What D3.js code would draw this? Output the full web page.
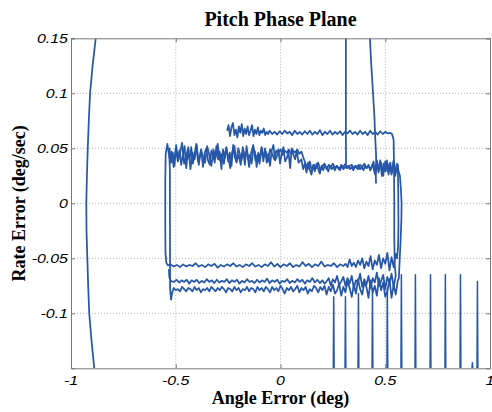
<!DOCTYPE html>
<html><head><meta charset="utf-8">
<script src="https://cdn.jsdelivr.net/npm/d3@7"></script>
<style>body{margin:0;background:#fff}svg{display:block}</style>
</head><body>
<script>
// ---------- data ----------
const title = "Pitch Phase Plane";
const xLabel = "Angle Error (deg)";
const yLabel = "Rate Error (deg/sec)";
const xDomain = [-1, 1];
const yDomain = [-0.15, 0.15];
const xTicks = [-1, -0.5, 0, 0.5, 1];
const xTickLabels = ["-1", "-0.5", "0", "0.5", "1"];
const yTicks = [-0.1, -0.05, 0, 0.05, 0.1, 0.15];
const yTickLabels = ["-0.1", "-0.05", "0", "0.05", "0.1", "0.15"];

// left boundary curve
const leftCurve = [[-0.882,0.15],[-0.897,0.125],[-0.909,0.1],[-0.915,0.075],[-0.920,0.05],[-0.924,0.025],[-0.927,0],
  [-0.926,-0.025],[-0.922,-0.05],[-0.918,-0.075],[-0.913,-0.1],[-0.902,-0.125],[-0.889,-0.15]];

// vertical entry line from top
const entryLine = [[0.312,0.15],[0.312,0.100],[0.312,0.060],[0.313,0.036]];
// descending line from top
const descLine = [[0.427,0.15],[0.432,0.13],[0.440,0.105],[0.448,0.08],[0.452,0.06],[0.456,0.045],[0.457,0.035],[0.455,0.025],[0.456,0.018]];

// pass A: inner left edge, top band, outer right edge, lower band C
const passA = [[-0.522,-0.088],[-0.527,-0.078],[-0.527,-0.06],[-0.528,0.0],[-0.528,0.03],[-0.53,0.040],
  [-0.530,.050],[-0.522,.037],[-0.514,.046],[-0.506,.034],[-0.498,.053],[-0.490,.041],[-0.482,.048],[-0.474,.035],
  [-0.466,.044],[-0.458,.052],[-0.450,.032],[-0.442,.047],[-0.434,.040],[-0.426,.051],[-0.418,.036],[-0.410,.045],
  [-0.402,.054],[-0.394,.038],[-0.386,.042],[-0.378,.049],[-0.370,.033],[-0.362,.046],[-0.354,.050],[-0.346,.039],
  [-0.338,.035],[-0.330,.048],[-0.322,.044],[-0.314,.037],[-0.306,.052],[-0.298,.040],[-0.290,.047],[-0.282,.031],
  [-0.274,.049],[-0.266,.041],[-0.258,.051],[-0.250,.038],[-0.242,.046],[-0.234,.034],[-0.226,.053],[-0.218,.042],
  [-0.210,.037],[-0.202,.050],[-0.194,.045],[-0.186,.039],[-0.178,.048],[-0.170,.035],[-0.162,.052],[-0.154,.040],
  [-0.146,.044],[-0.138,.036],[-0.130,.049],[-0.122,.047],[-0.114,.033],[-0.106,.046],[-0.098,.041],[-0.090,.051],
  [-0.082,.038],[-0.074,.050],[-0.066,.037],[-0.058,.045],[-0.050,.034],[-0.042,.048],[-0.034,.053],[-0.026,.039],
  [-0.018,.042],[-0.010,.049],[-0.002,.036],[0.006,.046],[0.014,.051],[0.022,.038],[0.030,.041],[0.038,.047],
  [0.046,.032],[0.054,.050],[0.062,.044],[0.070,.040],[0.078,.048],[0.086,.037],
  [0.100,.040],[0.108,.031],[0.116,.036],[0.124,.028],[0.132,.037],[0.140,.030],[0.148,.026],[0.156,.035],
  [0.164,.029],[0.172,.036],[0.180,.031],[0.188,.027],[0.196,.034],[0.204,.030],[0.212,.035],[0.220,.032],
  [0.228,.029],[0.236,.034],[0.244,.031],[0.252,.033],[0.260,.030],[0.268,.034],[0.276,.032],[0.284,.030],
  [0.292,.034],[0.300,.031],[0.308,.033],[0.316,.032],[0.324,.034],[0.332,.031],[0.340,.033],[0.348,.030],
  [0.356,.034],[0.364,.032],[0.372,.035],[0.380,.031],[0.388,.033],[0.396,.030],[0.404,.034],[0.412,.032],
  [0.420,.035],[0.428,.030],[0.436,.033],[0.444,.038],[0.452,.026],[0.460,.037],[0.468,.028],[0.476,.039],
  [0.484,.025],[0.492,.036],[0.500,.029],[0.508,.039],[0.516,.026],[0.524,.037],[0.532,.028],[0.540,.038],
  [0.548,.025],[0.556,.036],[0.564,.029],
  [0.570,0.025],[0.575,0.012],[0.578,0.0],[0.577,-0.015],[0.573,-0.035],[0.568,-0.055],[0.565,-0.068],
  [0.56,-.070],[0.55,-.083],[0.54,-.074],[0.53,-.086],[0.52,-.069],[0.51,-.080],[0.50,-.085],[0.49,-.072],
  [0.48,-.079],[0.47,-.068],[0.46,-.084],[0.45,-.075],[0.44,-.081],[0.43,-.070],[0.42,-.086],[0.41,-.076],
  [0.40,-.072],[0.39,-.083],[0.38,-.078],[0.37,-.069],[0.36,-.082],[0.35,-.074],[0.34,-.085],[0.33,-.077],
  [0.32,-.071],[0.31,-.081],[0.30,-.076],[0.29,-.084],[0.28,-.073],[0.27,-.079],[0.26,-.082],[0.25,-.074],
  [0.24,-.080],[0.23,-.076],[0.22,-.083],[0.21,-.075],
  [0.20,-.079],[0.19,-.076],[0.18,-.081],[0.17,-.077],[0.16,-.075],[0.15,-.080],[0.14,-.078],[0.13,-.082],
  [0.12,-.076],[0.11,-.079],[0.10,-.077],[0.09,-.081],[0.08,-.075],[0.07,-.078],[0.06,-.080],[0.05,-.076],
  [0.04,-.079],[0.03,-.077],[0.02,-.082],[0.01,-.078],[0.00,-.075],[-0.01,-.080],[-0.02,-.077],[-0.03,-.079],
  [-0.04,-.076],[-0.05,-.081],[-0.06,-.078],[-0.07,-.076],[-0.08,-.080],[-0.09,-.077],[-0.10,-.079],[-0.11,-.076],
  [-0.12,-.081],[-0.13,-.078],[-0.14,-.077],[-0.15,-.080],[-0.16,-.076],[-0.17,-.079],[-0.18,-.078],[-0.19,-.081],
  [-0.20,-.077],[-0.21,-.079],[-0.22,-.076],[-0.23,-.080],[-0.24,-.078],[-0.25,-.077],[-0.26,-.081],[-0.27,-.078],
  [-0.28,-.076],[-0.29,-.079],[-0.30,-.077],[-0.31,-.080],[-0.32,-.078],[-0.33,-.076],[-0.34,-.080],[-0.35,-.077],
  [-0.36,-.079],[-0.37,-.078],[-0.38,-.081],[-0.39,-.077],[-0.40,-.079],[-0.41,-.076],[-0.42,-.080],[-0.43,-.078],
  [-0.44,-.077],[-0.45,-.080],[-0.46,-.078],[-0.47,-.076],[-0.48,-.080],[-0.49,-.078],[-0.50,-.079],[-0.51,-.077],
  [-0.515,-.080],[-0.52,-0.084],[-0.522,-0.088]];

// pass B: outer left edge, second top band, right edge, lower band A
const passB = [[-0.545,-0.054],[-0.549,-0.045],[-0.55,-0.02],[-0.55,0.02],[-0.548,0.045],
  [-0.54,.054],[-0.53,.041],[-0.52,.047],[-0.51,.033],[-0.50,.050],[-0.49,.038],[-0.48,.045],[-0.47,.055],
  [-0.46,.036],[-0.45,.043],[-0.44,.051],[-0.43,.031],[-0.42,.046],[-0.41,.040],[-0.40,.053],[-0.39,.035],
  [-0.38,.048],[-0.37,.042],[-0.36,.037],[-0.35,.052],[-0.34,.044],[-0.33,.034],[-0.32,.049],[-0.31,.041],
  [-0.30,.054],[-0.29,.039],[-0.28,.045],[-0.27,.036],[-0.26,.050],[-0.25,.043],[-0.24,.032],[-0.23,.047],
  [-0.22,.052],[-0.21,.038],[-0.20,.044],[-0.19,.035],[-0.18,.051],[-0.17,.041],[-0.16,.048],[-0.15,.033],
  [-0.14,.046],[-0.13,.053],[-0.12,.039],[-0.11,.044],[-0.10,.036],[-0.09,.050],[-0.08,.042],[-0.07,.047],
  [-0.06,.038],[-0.05,.049],[-0.04,.045],[-0.03,.040],[-0.02,.048],[-0.01,.046],[0.00,.049],[0.01,.044],
  [0.02,.048],[0.03,.046],[0.04,.049],[0.05,.045],[0.06,.048],[0.07,.046],[0.08,.049],[0.09,.045],[0.10,.047],
  [0.11,.041],[0.12,.036],
  [0.13,.031],[0.14,.038],[0.15,.029],[0.16,.035],[0.17,.032],[0.18,.037],[0.19,.030],[0.20,.034],[0.21,.036],
  [0.22,.031],[0.23,.035],[0.24,.033],[0.25,.036],[0.26,.032],[0.27,.034],[0.28,.031],[0.29,.035],[0.30,.033],
  [0.31,.036],[0.32,.032],[0.33,.034],[0.34,.035],[0.35,.032],[0.36,.034],[0.37,.031],[0.38,.035],[0.39,.033],
  [0.40,.036],[0.41,.032],[0.42,.034],[0.43,.031],[0.44,.036],[0.45,.027],[0.46,.039],[0.47,.030],[0.48,.037],
  [0.49,.025],[0.50,.038],[0.51,.029],[0.52,.036],[0.53,.026],[0.54,.039],[0.55,.028],[0.56,.035],
  [0.562,0.01],[0.563,-0.02],[0.561,-0.040],[0.556,-0.050],
  [0.55,-.046],[0.54,-.058],[0.53,-.049],[0.52,-.061],[0.51,-.045],[0.50,-.055],[0.49,-.050],[0.48,-.059],
  [0.47,-.047],[0.46,-.056],[0.45,-.052],[0.44,-.060],[0.43,-.048],[0.42,-.057],[0.41,-.053],[0.40,-.059],
  [0.39,-.050],[0.38,-.056],[0.37,-.052],[0.36,-.058],[0.35,-.054],[0.34,-.057],[0.33,-.051],[0.32,-.058],
  [0.31,-.055],[0.30,-.057],
  [0.285,-.0555],[0.27,-.058],[0.255,-.0545],[0.24,-.057],[0.225,-.056],[0.21,-.0575],[0.195,-.053],[0.18,-.057],
  [0.165,-.0555],[0.15,-.058],[0.135,-.055],[0.12,-.057],[0.105,-.0535],[0.09,-.0575],[0.075,-.056],[0.06,-.058],
  [0.045,-.0545],[0.03,-.057],[0.015,-.0555],[0.0,-.058],[-0.015,-.055],[-0.03,-.0575],[-0.045,-.0535],[-0.06,-.057],
  [-0.075,-.0555],[-0.09,-.058],[-0.105,-.056],[-0.12,-.0575],[-0.135,-.0545],[-0.15,-.057],[-0.165,-.0555],
  [-0.18,-.058],[-0.195,-.056],[-0.21,-.0575],[-0.225,-.0545],[-0.24,-.057],[-0.255,-.0555],[-0.27,-.0575],
  [-0.285,-.056],[-0.30,-.0585],[-0.315,-.055],[-0.33,-.057],[-0.345,-.0555],[-0.36,-.058],[-0.375,-.056],
  [-0.39,-.0575],[-0.405,-.0545],[-0.42,-.057],[-0.435,-.056],[-0.45,-.0575],[-0.465,-.0555],[-0.48,-.058],
  [-0.495,-.056],[-0.51,-.0575],[-0.525,-.0555],[-0.538,-0.0565],[-0.545,-0.054]];

// pass C: upper band, inner right edge, lower band B
const passC = [[-0.255,.066],[-0.248,.071],[-0.241,.061],[-0.234,.069],[-0.227,.073],[-0.220,.062],[-0.213,.067],
  [-0.206,.060],[-0.199,.070],[-0.192,.064],[-0.185,.072],[-0.178,.061],[-0.171,.068],[-0.164,.063],[-0.157,.070],
  [-0.150,.062],[-0.143,.066],[-0.136,.071],[-0.129,.061],[-0.122,.067],[-0.115,.063],[-0.108,.069],[-0.101,.062],
  [-0.094,.066],[-0.087,.064],[-0.080,.068],[-0.073,.062],[-0.066,.065],[-0.059,.063],[-0.052,.066],
  [-0.040,.063],[-0.028,.065],[-0.016,.0625],[-0.004,.0655],[0.008,.063],[0.020,.066],[0.032,.0635],[0.044,.065],
  [0.056,.062],[0.068,.066],[0.080,.063],[0.092,.065],[0.104,.0625],[0.116,.0655],[0.128,.063],[0.140,.066],
  [0.152,.0625],[0.164,.065],[0.176,.063],[0.188,.0665],[0.200,.062],[0.212,.065],[0.224,.063],[0.236,.066],
  [0.248,.0625],[0.260,.065],[0.272,.063],[0.284,.0655],[0.296,.062],[0.308,.065],[0.320,.0635],[0.332,.066],
  [0.344,.063],[0.356,.065],[0.368,.0625],[0.380,.066],[0.392,.063],[0.404,.065],[0.416,.062],[0.428,.066],
  [0.440,.063],[0.452,.065],[0.464,.0625],[0.476,.0655],[0.488,.063],[0.500,.065],[0.512,.0635],[0.524,.064],
  [0.532,0.063],[0.540,0.058],[0.542,0.03],[0.543,0.0],[0.543,-0.03],[0.545,-0.055],[0.55,-0.066],
  [0.54,-.076],[0.53,-.064],[0.52,-.073],[0.51,-.067],[0.50,-.078],[0.49,-.065],[0.48,-.071],[0.47,-.075],
  [0.46,-.063],[0.45,-.072],[0.44,-.068],[0.43,-.077],[0.42,-.066],[0.41,-.074],[0.40,-.069],[0.39,-.076],
  [0.38,-.064],[0.37,-.072],[0.36,-.070],[0.35,-.077],[0.34,-.066],[0.33,-.073],[0.32,-.068],[0.31,-.075],
  [0.30,-.067],[0.29,-.071],[0.28,-.074],[0.27,-.066],[0.26,-.072],[0.25,-.069],[0.24,-.075],[0.23,-.068],
  [0.22,-.071],[0.21,-.073],
  [0.200,-.070],[0.188,-.0725],[0.176,-.0695],[0.164,-.072],[0.152,-.068],[0.140,-.0715],[0.128,-.070],
  [0.116,-.073],[0.104,-.0695],[0.092,-.0715],[0.080,-.069],[0.068,-.072],[0.056,-.0705],[0.044,-.0725],
  [0.032,-.069],[0.020,-.0715],[0.008,-.0705],[-0.004,-.073],[-0.016,-.0695],[-0.028,-.0715],[-0.040,-.070],
  [-0.052,-.0725],[-0.064,-.0685],[-0.076,-.0715],[-0.088,-.070],[-0.100,-.072],[-0.112,-.0695],[-0.124,-.0725],
  [-0.136,-.0705],[-0.148,-.0715],[-0.160,-.069],[-0.172,-.072],[-0.184,-.0705],[-0.196,-.073],[-0.208,-.0695],
  [-0.220,-.0715],[-0.232,-.070],[-0.244,-.0725],[-0.256,-.069],[-0.268,-.0715],[-0.280,-.0705],[-0.292,-.072],
  [-0.304,-.0695],[-0.316,-.0725],[-0.328,-.070],[-0.340,-.0715],[-0.352,-.069],[-0.364,-.072],[-0.376,-.0705],
  [-0.388,-.0725],[-0.400,-.0695],[-0.412,-.0715],[-0.424,-.070],[-0.436,-.073],[-0.448,-.0695],[-0.460,-.0715],
  [-0.472,-.070],[-0.484,-.072],[-0.496,-.0695],[-0.508,-.0715],[-0.520,-.071],[-0.53,-0.068],[-0.533,-0.06]];

// spikes rising from the bottom
const spikeX   = [0.252, 0.308, 0.370, 0.437, 0.508, 0.575, 0.642, 0.714, 0.785, 0.857, 0.914, 0.938];
const spikeTop = [-0.085, -0.085, -0.082, -0.080, -0.078, -0.065, -0.065, -0.065, -0.065, -0.065, -0.145, -0.071];

// ---------- layout ----------
const W = 492, H = 412;
const m = {left: 71, right: 2, top: 38.3, bottom: 43.7};
const svg = d3.select("body").append("svg").attr("width", W).attr("height", H);
const x = d3.scaleLinear().domain(xDomain).range([m.left, W - m.right]);
const y = d3.scaleLinear().domain(yDomain).range([H - m.bottom, m.top]);
const axisColor = "#7a7a7a", lineColor = "#2657a8";
const lw = 1.75;

// grid
const grid = svg.append("g");
grid.selectAll("line.gx").data(xTicks.slice(1, -1)).join("line")
  .attr("x1", d => x(d)).attr("x2", d => x(d)).attr("y1", y.range()[0]).attr("y2", y.range()[1])
  .attr("stroke", "#b4b4b4").attr("stroke-width", 1).attr("stroke-dasharray", "1,2");
grid.selectAll("line.gy").data(yTicks.filter(d => d < yDomain[1])).join("line")
  .attr("y1", d => y(d)).attr("y2", d => y(d)).attr("x1", x.range()[0]).attr("x2", x.range()[1])
  .attr("stroke", "#b4b4b4").attr("stroke-width", 1).attr("stroke-dasharray", "1,2");

// data
svg.append("clipPath").attr("id", "clip").append("rect")
  .attr("x", x.range()[0]).attr("y", y.range()[1]).attr("width", x.range()[1] - x.range()[0]).attr("height", y.range()[0] - y.range()[1]);
const line = d3.line().x(d => x(d[0])).y(d => y(d[1]));
const plot = svg.append("g").attr("clip-path", "url(#clip)");
[leftCurve, entryLine, descLine, passA, passB, passC].forEach(s => {
  plot.append("path").attr("d", line(s)).attr("fill", "none").attr("stroke", lineColor)
    .attr("stroke-width", lw).attr("stroke-linejoin", "round");
});
spikeX.forEach((sx, i) => {
  const pts = [[sx, yDomain[0]], [sx + 0.002, spikeTop[i]], [sx + 0.004, yDomain[0]]];
  plot.append("path").attr("d", line(pts)).attr("fill", "none").attr("stroke", lineColor)
    .attr("stroke-width", 1.5).attr("stroke-linejoin", "round");
});

// axes box (ticks inward)
const gx = svg.append("g").attr("transform", `translate(0,${y.range()[0]})`)
  .call(d3.axisBottom(x).tickValues(xTicks).tickSize(-4).tickFormat(""));
const gxt = svg.append("g").attr("transform", `translate(0,${y.range()[1]})`)
  .call(d3.axisTop(x).tickValues(xTicks).tickSize(-4).tickFormat(""));
const gy = svg.append("g").attr("transform", `translate(${x.range()[0]},0)`)
  .call(d3.axisLeft(y).tickValues(yTicks).tickSize(-4).tickFormat(""));
const gyr = svg.append("g").attr("transform", `translate(${x.range()[1]},0)`)
  .call(d3.axisRight(y).tickValues(yTicks).tickSize(-4).tickFormat(""));
[gx, gxt, gy, gyr].forEach(g => {
  g.selectAll("path.domain").attr("stroke", axisColor).attr("stroke-width", 1);
  g.selectAll(".tick line").attr("stroke", axisColor).attr("stroke-width", 1);
});

// tick labels (italic, horizontally stretched like the source)
const sx = 1.33;
xTicks.forEach((t, i) => {
  svg.append("g").attr("transform", `translate(${x(t)},${y.range()[0] + 16.7}) scale(${sx},1)`)
    .append("text").text(xTickLabels[i]).attr("text-anchor", "middle")
    .attr("font-family", "Liberation Sans, Arial, sans-serif").attr("font-style", "italic").attr("font-size", 12).attr("fill", "#000");
});
yTicks.forEach((t, i) => {
  svg.append("g").attr("transform", `translate(${x.range()[0] - 3},${y(t) + 4.3}) scale(${sx},1)`)
    .append("text").text(yTickLabels[i]).attr("text-anchor", "end")
    .attr("font-family", "Liberation Sans, Arial, sans-serif").attr("font-style", "italic").attr("font-size", 12).attr("fill", "#000");
});

// titles
const serif = "Liberation Serif, Times New Roman, serif";
svg.append("text").text(title).attr("x", (x.range()[0] + x.range()[1]) / 2).attr("y", 25.7)
  .attr("text-anchor", "middle").attr("font-family", serif).attr("font-weight", "bold").attr("font-size", 20);
svg.append("text").text(xLabel).attr("x", (x.range()[0] + x.range()[1]) / 2).attr("y", 404)
  .attr("text-anchor", "middle").attr("font-family", serif).attr("font-weight", "bold").attr("font-size", 18);
svg.append("text").text(yLabel).attr("transform", `translate(25,${(y.range()[0] + y.range()[1]) / 2}) rotate(-90)`)
  .attr("text-anchor", "middle").attr("font-family", serif).attr("font-weight", "bold").attr("font-size", 18);
</script>
</body></html>
